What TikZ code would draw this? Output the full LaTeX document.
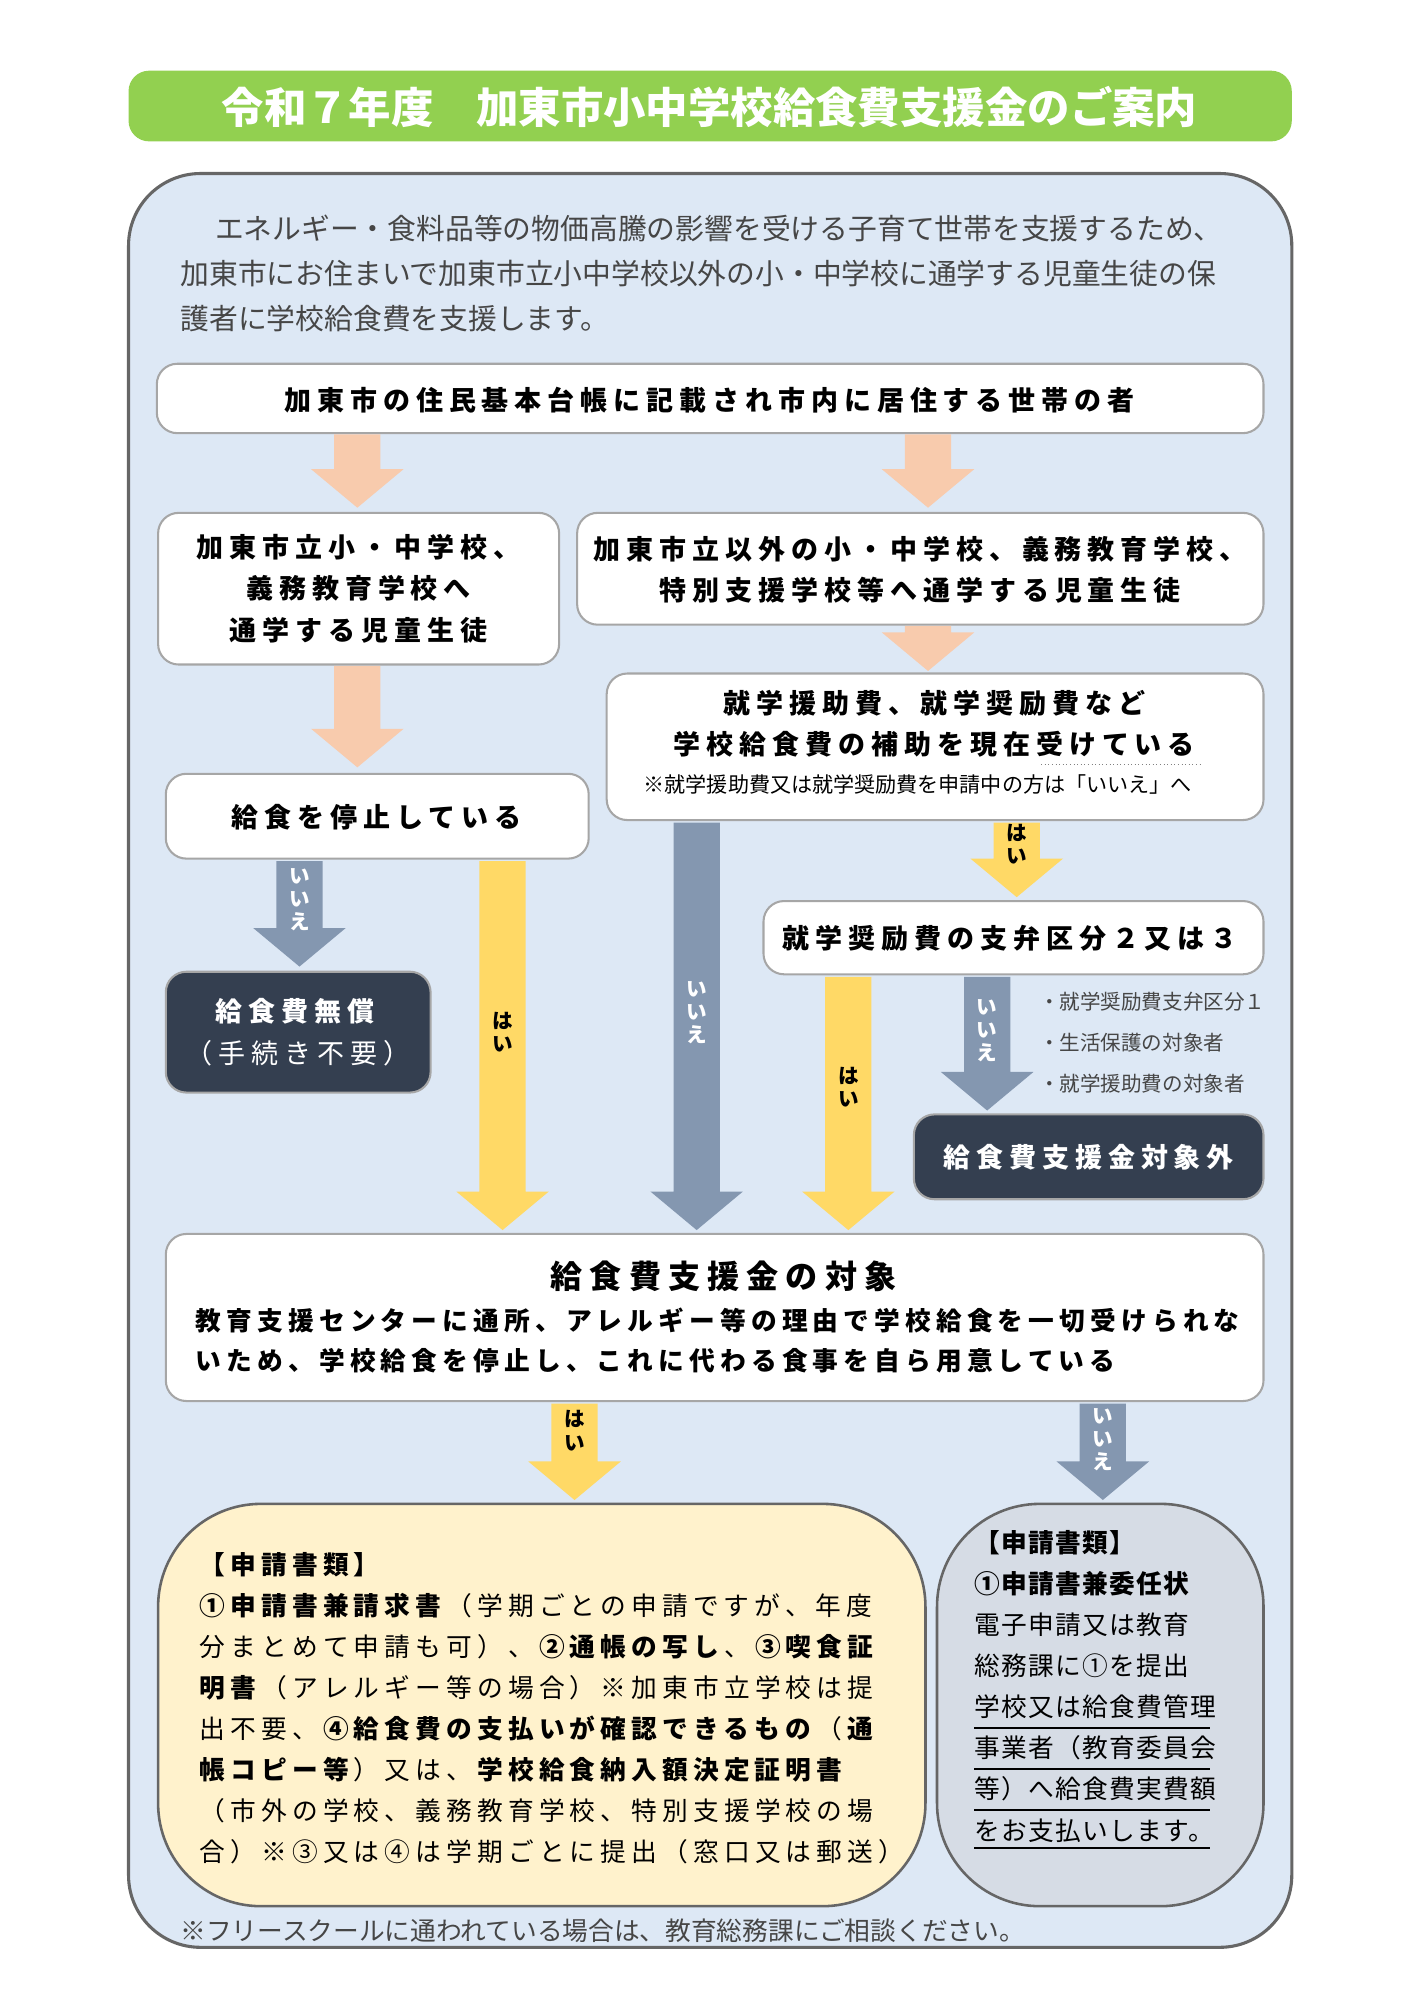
\documentclass[tikz,border=0pt]{standalone}
\usepackage{fontspec}
\setmainfont{Noto Sans CJK JP}
\newfontfamily\spc[LetterSpace=22]{Noto Sans CJK JP}
\newfontfamily\spcm[LetterSpace=20]{Noto Sans CJK JP}
\newfontfamily\spcs[LetterSpace=5]{Noto Sans CJK JP}
\definecolor{titlegreen}{RGB}{146,208,80}
\definecolor{panelblue}{RGB}{221,232,245}
\definecolor{peach}{RGB}{248,203,173}
\definecolor{slate}{RGB}{132,151,176}
\definecolor{sunny}{RGB}{255,217,102}
\definecolor{navy}{RGB}{52,63,80}
\definecolor{cream}{RGB}{255,242,204}
\definecolor{greybox}{RGB}{214,220,229}
\definecolor{txtgrey}{RGB}{70,70,70}
\tikzset{
  whitebox/.style={draw=gray!70,line width=0.8pt,fill=white,rounded corners=8pt},
  darkbox/.style={draw=gray!70,line width=0.8pt,fill=navy,rounded corners=8pt},
  boxtext/.style={font=\spc\bfseries\fontsize{10.5}{16}\selectfont,align=center},
  vlabel/.style={font=\bfseries\fontsize{8}{9}\selectfont,align=center,text=white,inner sep=0pt},
}
% block arrow: x, top, bottom, colour
\newcommand{\blockarrow}[4]{%
  \fill[#4] (#1-18,#2) -- (#1+18,#2) -- (#1+18,#3-30) -- (#1+36,#3-30) -- (#1,#3) -- (#1-36,#3-30) -- (#1-18,#3-30) -- cycle;}
\begin{document}
\begin{tikzpicture}[x=0.5pt,y=-0.5pt]
\useasboundingbox (0,0) rectangle (1100,1556);

%Title
\fill[titlegreen,rounded corners=8pt] (100,55) rectangle (1005,110);
\node[text=white,font=\bfseries\fontsize{16.5}{18}\selectfont] (title) at (552,83) {令和７年度　加東市小中学校給食費支援金のご案内};

%Panel
\draw[gray!80!black,line width=1.2pt,fill=panelblue,rounded corners=28pt] (100,135) rectangle (1005,1515);
\node[anchor=west,text=txtgrey,font=\fontsize{11.2}{17.5}\selectfont,align=left,inner sep=0pt] (intro) at (140,213)
  {\hspace*{1.2em}エネルギー・食料品等の物価高騰の影響を受ける子育て世帯を支援するため、\\加東市にお住まいで加東市立小中学校以外の小・中学校に通学する児童生徒の保\\護者に学校給食費を支援します。};

%Boxes
\draw[whitebox] (122,283) rectangle (983,337);
\node[boxtext] (resident) at (552,311) {加東市の住民基本台帳に記載され市内に居住する世帯の者};

\blockarrow{278}{338}{395}{peach}
\blockarrow{722}{338}{395}{peach}

\draw[whitebox] (123,399) rectangle (435,517);
\node[boxtext] (citysch) at (279,458) {加東市立小・中学校、\\義務教育学校へ\\通学する児童生徒};
\draw[whitebox] (449,399) rectangle (983,486);
\node[boxtext] (othersch) at (716,443) {加東市立以外の小・中学校、義務教育学校、\\特別支援学校等へ通学する児童生徒};

\blockarrow{722}{487}{522}{peach}
\draw[whitebox] (472,524) rectangle (983,638);
\node[boxtext] (aid) at (727,563) {就学援助費、就学奨励費など\\学校給食費の補助を現在受けている};
\draw[densely dotted,gray] (810,595) -- (935,595);
\node[font=\fontsize{8.2}{10}\selectfont] (aidnote) at (714,610) {※就学援助費又は就学奨励費を申請中の方は「いいえ」へ};

\blockarrow{278}{518}{597}{peach}
\draw[whitebox] (129,602) rectangle (458,668);
\node[boxtext] (stop) at (293,636) {給食を停止している};

\blockarrow{233}{670}{752}{slate}
\node[vlabel] (noA) at (233,700) {い\\い\\え};
\draw[darkbox] (129,756) rectangle (335,850);
\node[boxtext,text=white,font=\spc\fontsize{10.5}{16}\selectfont] (free) at (232,803) {\textbf{給食費無償}\\（手続き不要）};

\blockarrow{391}{670}{957}{sunny}
\node[vlabel,text=black] (yesA) at (391,803) {は\\い};
\blockarrow{542}{640}{957}{slate}
\node[vlabel] (noB) at (542,788) {い\\い\\え};
\blockarrow{791}{640}{698}{sunny}
\node[vlabel,text=black] (yesB) at (791,657) {は\\い};

\draw[whitebox] (594,701) rectangle (983,758);
\node[boxtext] (grade) at (786,730) {就学奨励費の支弁区分２又は３};

\blockarrow{660}{760}{957}{sunny}
\node[vlabel,text=black] (yesC) at (660,846) {は\\い};
\blockarrow{768}{760}{864}{slate}
\node[vlabel] (noC) at (768,802) {い\\い\\え};
\node[anchor=west,align=left,text=txtgrey,font=\fontsize{8}{16}\selectfont,inner sep=0pt] (notes) at (808,811)
  {・就学奨励費支弁区分１\\・生活保護の対象者\\・就学援助費の対象者};

\draw[darkbox] (711,867) rectangle (983,933);
\node[boxtext,text=white] (excl) at (847,900) {給食費支援金対象外};

\draw[whitebox] (129,960) rectangle (983,1090);
\node[font=\spc\bfseries\fontsize{12.5}{15}\selectfont] (target) at (563,993) {給食費支援金の対象};
\node[anchor=west,align=left,font=\spcm\bfseries\fontsize{10}{15.5}\selectfont,inner sep=0pt] (cond) at (152,1043)
  {教育支援センターに通所、アレルギー等の理由で学校給食を一切受けられな\\いため、学校給食を停止し、これに代わる食事を自ら用意している};

\blockarrow{447}{1092}{1167}{sunny}
\node[vlabel,text=black] (yesD) at (447,1113) {は\\い};
\blockarrow{858}{1092}{1167}{slate}
\node[vlabel] (noD) at (858,1120) {い\\い\\え};

%Documents
\draw[gray!80!black,line width=1pt,fill=cream,rounded corners=40pt] (123,1170) rectangle (720,1483);
\node[anchor=north west,align=left,font=\spcm\fontsize{10}{16}\selectfont,inner sep=0pt] (docsA) at (155,1207)
  {\textbf{【申請書類】}\\
   \textbf{①申請書兼請求書}（学期ごとの申請ですが、年度\\
   分まとめて申請も可）、\textbf{②通帳の写し}、\textbf{③喫食証}\\
   \textbf{明書}（アレルギー等の場合）※加東市立学校は提\\
   出不要、\textbf{④給食費の支払いが確認できるもの}（\textbf{通}\\
   \textbf{帳コピー等}）又は、\textbf{学校給食納入額決定証明書}\\
   （市外の学校、義務教育学校、特別支援学校の場\\
   合）※③又は④は学期ごとに提出（窓口又は郵送）};

\draw[gray!80!black,line width=1pt,fill=greybox,rounded corners=40pt] (729,1170) rectangle (983,1483);
\node[anchor=north west,align=left,font=\spcs\fontsize{10}{16}\selectfont,inner sep=0pt] (docsB) at (758,1190)
  {\textbf{【申請書類】}\\
   \textbf{①申請書兼委任状}\\
   電子申請又は教育\\
   総務課に①を提出\\
   学校又は給食費管理\\
   事業者（教育委員会\\
   等）へ給食費実費額\\
   をお支払いします。};
\foreach \y in {1344,1376,1408,1438}
  \draw[line width=0.8pt] (758,\y) -- (941,\y);

\node[anchor=west,text=txtgrey,font=\fontsize{10}{12}\selectfont,inner sep=0pt] (footer) at (140,1502)
  {※フリースクールに通われている場合は、教育総務課にご相談ください。};
\end{tikzpicture}
\end{document}
